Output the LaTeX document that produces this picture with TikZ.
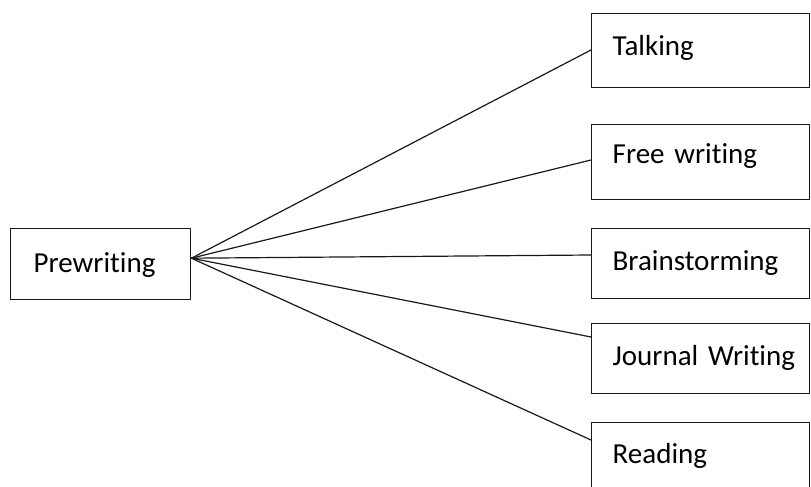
\documentclass[tikz,border=0pt]{standalone}
\usepackage{fontspec}
\setmainfont{Carlito}[Ligatures=NoCommon]
\begin{document}
\begin{tikzpicture}[x=1pt,y=-1pt,
  box/.style={draw=black!90, line width=1.4pt, inner ysep=0pt, inner xsep=21pt,
    text width=176pt, align=left, anchor=north west,
    font=\fontsize{29}{34}\selectfont},
  link/.style={draw=black!90, line width=1.2pt}]
\useasboundingbox (0,0) rectangle (811,487);
\node[box, inner xsep=23pt, text width=134pt, text height=44pt, text depth=27pt] (pre) at (10,228) {\mbox{Prewriting}};
\node[box, text height=42pt, text depth=32pt] (talk) at (591,13) {\mbox{Talking}};
\node[box, text height=39pt, text depth=36pt] (free) at (591,124) {\mbox{Free writing}};
\node[box, text height=42pt, text depth=28pt] (brain) at (591,228) {\mbox{Brainstorming}};
\node[box, text height=42pt, text depth=28pt] (journal) at (591,323) {\mbox{Journal Writing}};
\node[box, text height=41pt, text depth=32pt] (read) at (591,422) {\mbox{Reading}};
\coordinate (hub) at ([yshift=6pt]pre.east);
\draw[link] (hub) -- (talk.west |- 0,50);
\draw[link] (hub) -- (free.west |- 0,160);
\draw[link] (hub) -- (brain.west |- 0,255);
\draw[link] (hub) -- (journal.west |- 0,337);
\draw[link] (hub) -- (read.west |- 0,440);
\end{tikzpicture}
\end{document}
